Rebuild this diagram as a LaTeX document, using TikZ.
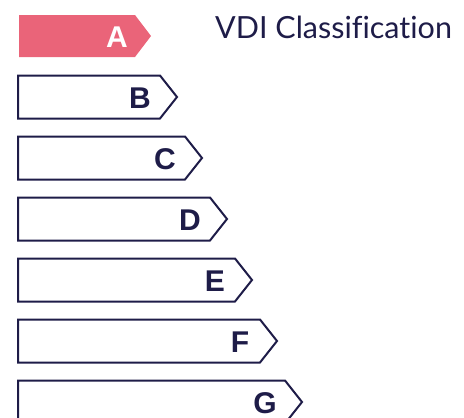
\documentclass[tikz,border=0pt]{standalone}
\usepackage{fontspec}
\setmainfont{Liberation Sans}
\newfontfamily\titlefont[Ligatures=CommonOff]{Lato}
\definecolor{navy}{HTML}{1E1C48}
\definecolor{pinkA}{HTML}{EA6479}
\begin{document}
\begin{tikzpicture}[x=1pt,y=-1pt,
  bar/.style={draw=navy,line width=2pt,fill=white,line join=miter},
  lettr/.style={font=\fontsize{30}{30}\selectfont\bfseries,text=navy,inner sep=0pt,anchor=center}]
\useasboundingbox (0,0) rectangle (464,418);
% A
\fill[pinkA] (19,15) -- (135,15) -- (151,36) -- (135,57) -- (19,57) -- cycle;
\node[lettr,text=white] (A) at (117,37) {A};
% B..G
\foreach \L [count=\i] in {B,C,D,E,F,G}{
  \pgfmathsetmacro{\tip}{177+25*(\i-1)}
  \pgfmathsetmacro{\cy}{97+61*(\i-1)}
  \draw[bar] (18,\cy-21.5) -- (\tip-17,\cy-21.5) -- (\tip,\cy) -- (\tip-17,\cy+21.5) -- (18,\cy+21.5) -- cycle;
  \node[lettr] (\L) at (\tip-37,\cy+1) {\L};
}
\node[font=\titlefont\fontsize{30.5}{30.5}\selectfont,text=navy,anchor=base west,inner sep=0pt] (title) at (215,38) {VDI Classification};
\end{tikzpicture}
\end{document}
